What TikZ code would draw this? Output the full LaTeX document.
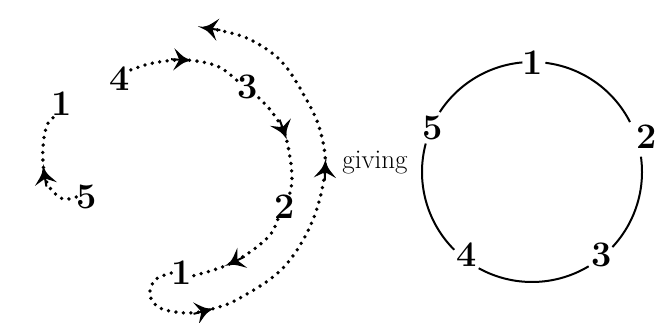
\documentclass[tikz,border=0pt]{standalone}
\usetikzlibrary{decorations.markings}
\newcommand\tipshape{%
  \draw[solid, line width=2pt, line cap=butt] (-15pt,0pt) -- (2pt,0pt);
  \draw[solid, line width=1.6pt, line join=miter, fill=black]
    (3pt,0pt) .. controls (-3pt,2pt) .. (-10pt,8pt) -- (-6pt,0pt) -- (-10pt,-8pt) .. controls (-3pt,-2pt) .. cycle;}
\begin{document}
\begin{tikzpicture}[x=1pt,y=1pt,
  num/.style={font=\fontsize{36}{36}\selectfont\bfseries, inner sep=0.5pt},
  dotline/.style={line width=3.8pt, line cap=round, dash pattern=on 0pt off 7.5pt},
  circ/.style={line width=2pt},
  tipsat/.style={postaction={decorate}, decoration={markings, mark=at position #1 with {\tipshape}}}
]
\useasboundingbox[fill=white] (0,0) rectangle (656,323);

% left figure labels
\node[num] (n4) at (120,244) {4};
\node[num] (n3) at (248,236) {3};
\node[num] (l1) at (62,219) {1};
\node[num] (n5) at (87,126) {5};
\node[num] (n2) at (285,116) {2};
\node[num] (b1) at (182,50) {1};
\node[font=\fontsize{27}{27}\selectfont, inner sep=1pt] (giving) at (375,160) {giving};

% dotted connectors
\draw[dotline, tipsat=0.5] plot[smooth, tension=0.6] coordinates
  {(n4.40) (153,260) (185,263) (217,257) (n3.150)};
\draw[dotline, tipsat=0.42] plot[smooth, tension=0.6] coordinates
  {(n3.-45) (272,211) (284,191) (290,166) (292,143) (n2.70)};
\draw[dotline, tipsat=0.62] plot[smooth, tension=0.6] coordinates
  {(n2.-120) (270,88) (250,71) (225,57) (b1.-15)};
\draw[dotline, postaction={decorate}, decoration={markings,
    mark=at position 0.2 with {\tipshape},
    mark=at position 0.6 with {\tipshape},
    mark=at position 0.999 with {\tipshape}}]
  plot[smooth, tension=0.6] coordinates
  {(b1.west) (155,43) (150,28) (160,15) (187,10) (212,14) (240,25) (283,55)
   (312,101) (325,153) (320,193) (305,226) (282,261) (253,282) (227,291) (205,295)};
\draw[dotline, tipsat=0.45] plot[smooth, tension=0.6] coordinates
  {(n5.west) (63,124) (50,135) (44,151) (43,176) (47,198) (l1.-120)};

% right circle
\coordinate (O) at (532,151);
\node[num] (c1) at (533,260) {1};
\node[num] (c2) at (647,186) {2};
\node[num] (c3) at (602,68) {3};
\node[num] (c4) at (467,68) {4};
\node[num] (c5) at (433,195) {5};
\draw[circ] (O) ++(83:110) arc[start angle=83, end angle=27, radius=110];
\draw[circ] (O) ++(8:110) arc[start angle=8, end angle=-43, radius=110];
\draw[circ] (O) ++(-59:110) arc[start angle=-59, end angle=-119, radius=110];
\draw[circ] (O) ++(-135:110) arc[start angle=-135, end angle=-195, radius=110];
\draw[circ] (O) ++(147:110) arc[start angle=147, end angle=95, radius=110];
\end{tikzpicture}
\end{document}
